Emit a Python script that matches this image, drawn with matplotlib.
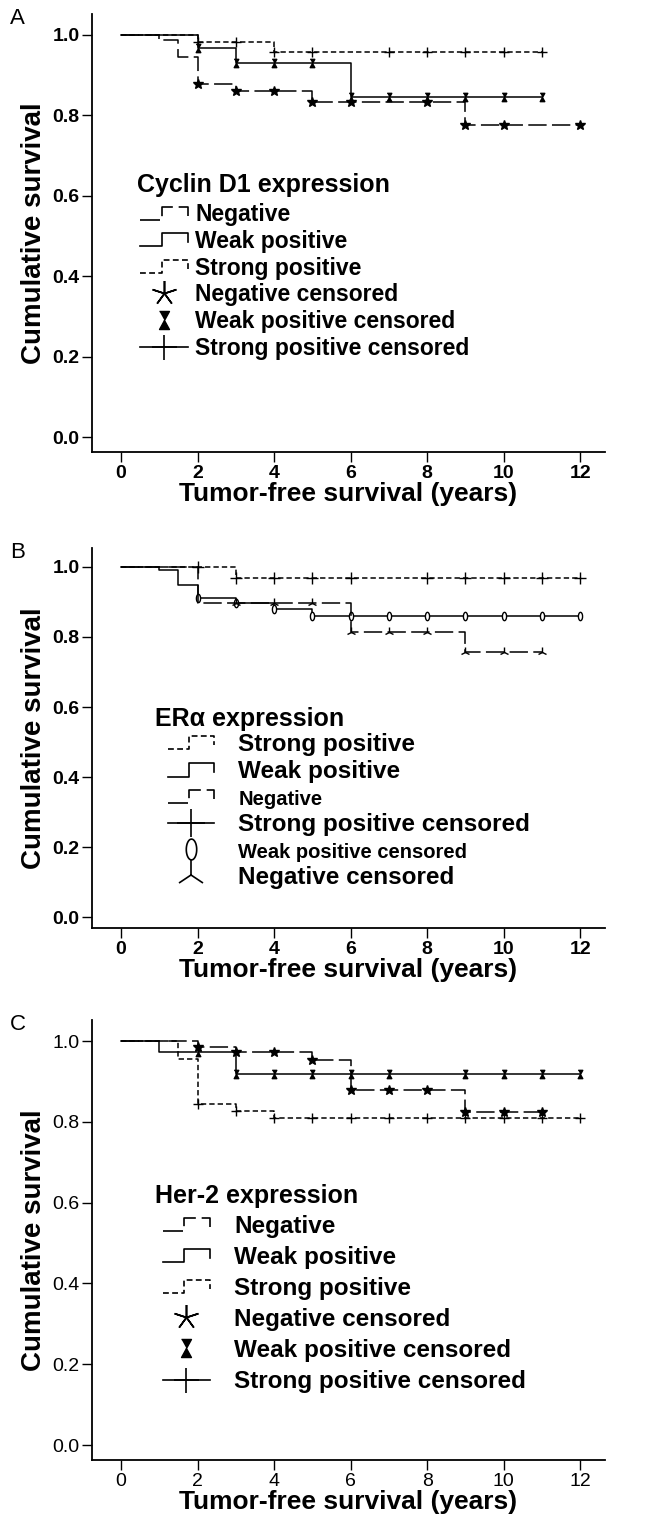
import numpy as np
import matplotlib
matplotlib.use('Agg')
import matplotlib.pyplot as plt
from matplotlib.lines import Line2D
from matplotlib.legend_handler import HandlerBase

plt.rcParams['font.family'] = ['Liberation Sans', 'DejaVu Sans']

#===================== data =====================
# Panel A: Cyclin D1
a_neg_t = [0, 1.0, 1.5, 2, 3, 5, 9, 12]
a_neg_s = [1.0, 0.987, 0.944, 0.877, 0.860, 0.832, 0.776, 0.776]
a_neg_c = [2, 3, 4, 5, 6, 8, 9, 10, 12]
a_weak_t = [0, 2, 3, 6, 11]
a_weak_s = [1.0, 0.967, 0.929, 0.845, 0.845]
a_weak_c = [2, 3, 4, 5, 6, 7, 8, 9, 10, 11]
a_str_t = [0, 2, 4, 11]
a_str_s = [1.0, 0.982, 0.958, 0.958]
a_str_c = [2, 3, 4, 5, 7, 8, 9, 10, 11]

# Panel B: ER alpha
b_str_t = [0, 3, 12]
b_str_s = [1.0, 0.968, 0.968]
b_str_c = [2, 3, 4, 5, 6, 8, 9, 10, 11, 12]
b_weak_t = [0, 1.0, 1.5, 2, 3, 4, 5, 12]
b_weak_s = [1.0, 0.99, 0.948, 0.912, 0.896, 0.881, 0.859, 0.859]
b_weak_c = [2, 3, 4, 5, 6, 7, 8, 9, 10, 11, 12]
b_neg_t = [0, 2, 6, 9, 11]
b_neg_s = [1.0, 0.897, 0.815, 0.757, 0.757]
b_neg_c = [3, 4, 5, 6, 7, 8, 9, 10, 11]

# Panel C: Her-2
c_neg_t = [0, 2, 3, 5, 6, 9, 11]
c_neg_s = [1.0, 0.985, 0.972, 0.953, 0.879, 0.824, 0.824]
c_neg_c = [2, 3, 4, 5, 6, 7, 8, 9, 10, 11]
c_weak_t = [0, 1, 3, 12]
c_weak_s = [1.0, 0.974, 0.918, 0.918]
c_weak_c = [2, 3, 4, 5, 6, 7, 9, 10, 11, 12]
c_str_t = [0, 1.5, 2, 3, 4, 12]
c_str_s = [1.0, 0.955, 0.845, 0.828, 0.809, 0.809]
c_str_c = [2, 3, 4, 5, 6, 7, 8, 9, 10, 11, 12]

x_ticks = [0, 2, 4, 6, 8, 10, 12]
y_ticks = [0.0, 0.2, 0.4, 0.6, 0.8, 1.0]

labA = ['Negative', 'Weak positive', 'Strong positive', 'Negative censored',
        'Weak positive censored', 'Strong positive censored']
labB = ['Strong positive', 'Weak positive', 'Negative', 'Strong positive censored',
        'Weak positive censored', 'Negative censored']

#===================== styles =====================
LONG = (0, (12, 3.5))
SHORT = (0, (3.5, 2))
SOLID = '-'

hourglass = [(-0.55, 1), (0.55, 1), (0, 0), (0.55, -1), (-0.55, -1), (0, 0)]
_th = np.linspace(0, 2 * np.pi, 40)
ellipse = list(zip(0.5 * np.cos(_th), np.sin(_th)))
asterisk = (5, 2, 0)
NARROW = ['Liberation Sans Narrow', 'Liberation Sans', 'DejaVu Sans']


class StepHandler(HandlerBase):
    # SPSS-style  _|‾|  legend symbol
    def create_artists(self, legend, orig_handle, xdescent, ydescent,
                       width, height, fontsize, trans):
        x0, y0 = -xdescent, -ydescent
        xs = [x0, x0 + 0.45 * width, x0 + 0.45 * width, x0 + width, x0 + width]
        ys = [y0 + 0.1 * height, y0 + 0.1 * height, y0 + 0.9 * height,
              y0 + 0.9 * height, y0 + 0.35 * height]
        ln = Line2D(xs, ys)
        ln.update_from(orig_handle)
        ln.set_marker('None')
        ln.set_transform(trans)
        return [ln]


def step_at(t, s, x):
    idx = np.searchsorted(t, x, side='right') - 1
    return np.asarray(s)[idx]


def draw_curve(ax, t, s, c, ls, marker, ms, mfc='k'):
    ax.step(t, s, where='post', color='k', lw=1.1, linestyle=ls)
    ax.plot(c, step_at(t, s, c), linestyle='none', marker=marker, ms=ms,
            color='k', mfc=mfc, mew=1.0)


def style_axes(ax, bold_ticks):
    ax.set_xlim(-0.76, 12.65)
    ax.set_xticks(x_ticks)
    ax.set_yticks(y_ticks)
    ax.set_yticklabels(['%.1f' % v for v in y_ticks])
    for sp in ['top', 'right']:
        ax.spines[sp].set_visible(False)
    for sp in ['left', 'bottom']:
        ax.spines[sp].set_linewidth(1.3)
    ax.tick_params(direction='out', length=7, width=1.0, labelsize=14, pad=2)
    for lb in ax.get_xticklabels() + ax.get_yticklabels():
        if bold_ticks:
            lb.set_fontweight('bold')
            lb.set_family(NARROW)
    ax.set_xlabel('Tumor-free survival (years)', fontsize=19, fontweight='bold', labelpad=0)
    ax.set_ylabel('Cumulative survival', fontsize=20, fontweight='bold', labelpad=4)


def make_handles(kind):
    if kind == 'A':
        return [Line2D([], [], color='k', lw=1.2, linestyle=LONG),
                Line2D([], [], color='k', lw=1.2, linestyle=SOLID),
                Line2D([], [], color='k', lw=1.2, linestyle=SHORT),
                Line2D([], [], color='k', linestyle='none', marker=asterisk, ms=18, mew=1.2),
                Line2D([], [], color='k', linestyle='none', marker=hourglass, ms=13),
                Line2D([], [], color='k', lw=1.2, linestyle='-', marker='+', ms=18, mew=1.2)]
    return [Line2D([], [], color='k', lw=1.2, linestyle=SHORT),
            Line2D([], [], color='k', lw=1.2, linestyle=SOLID),
            Line2D([], [], color='k', lw=1.2, linestyle=LONG),
            Line2D([], [], color='k', lw=1.2, linestyle='-', marker='+', ms=20, mew=1.2),
            Line2D([], [], color='k', linestyle='none', marker=ellipse, ms=15, mfc='white', mew=1.2),
            Line2D([], [], color='k', linestyle='none', marker='2', ms=22, mew=1.2)]


def add_legend(ax, handles, labels, title, title_xy, title_size, anchor,
               size, hlen, tpad, lspace, sizes=None):
    ax.text(title_xy[0], title_xy[1], title, transform=ax.transAxes,
            fontsize=title_size, fontweight='bold', va='center', ha='left')
    leg = ax.legend(handles, labels, loc='upper left', bbox_to_anchor=anchor,
                    frameon=False, handlelength=hlen, handletextpad=tpad,
                    labelspacing=lspace, borderpad=0, borderaxespad=0,
                    handler_map={h: StepHandler() for h in handles[:3]},
                    prop={'weight': 'bold', 'size': size})
    if sizes:
        for txt, sz in zip(leg.get_texts(), sizes):
            txt.set_fontsize(sz)
    return leg


fig = plt.figure(figsize=(6.5, 15.39), dpi=100)
L, W = 92 / 650, 513 / 650
axA = fig.add_axes([L, 1 - 452 / 1539, W, 438 / 1539])
axB = fig.add_axes([L, 1 - 928 / 1539, W, 380 / 1539])
axC = fig.add_axes([L, 1 - 1460 / 1539, W, 440 / 1539])

#===================== A =====================
draw_curve(axA, a_neg_t, a_neg_s, a_neg_c, LONG, '*', 7)
draw_curve(axA, a_weak_t, a_weak_s, a_weak_c, SOLID, hourglass, 6)
draw_curve(axA, a_str_t, a_str_s, a_str_c, SHORT, '+', 7)
axA.set_ylim(-0.037, 1.052)
style_axes(axA, True)
add_legend(axA, make_handles('A'), labA, 'Cyclin D1 expression', (0.088, 0.61), 18,
           (0.094, 0.568), 16.5, 2.1, 0.3, 0.16)

#===================== B =====================
draw_curve(axB, b_str_t, b_str_s, b_str_c, SHORT, '+', 8)
draw_curve(axB, b_weak_t, b_weak_s, b_weak_c, SOLID, ellipse, 6, mfc='white')
draw_curve(axB, b_neg_t, b_neg_s, b_neg_c, LONG, '2', 7)
axB.set_ylim(-0.031, 1.054)
style_axes(axB, True)
add_legend(axB, make_handles('B'), labB, 'ER\u03b1 expression', (0.123, 0.55), 18,
           (0.148, 0.513), 17.5, 1.9, 1.0, 0.18, sizes=[17.5, 17.5, 14.5, 17.5, 14.5, 17.5])

#===================== C =====================
draw_curve(axC, c_neg_t, c_neg_s, c_neg_c, LONG, '*', 7)
draw_curve(axC, c_weak_t, c_weak_s, c_weak_c, SOLID, hourglass, 6)
draw_curve(axC, c_str_t, c_str_s, c_str_c, SHORT, '+', 7)
axC.set_ylim(-0.037, 1.052)
style_axes(axC, False)
add_legend(axC, make_handles('A'), labA, 'Her-2 expression', (0.123, 0.60), 18,
           (0.138, 0.557), 17.5, 1.95, 1.0, 0.33)

fig.text(10 / 650, 1 - 18 / 1539, 'A', fontsize=16, va='center')
fig.text(10 / 650, 1 - 553 / 1539, 'B', fontsize=16, va='center')
fig.text(10 / 650, 1 - 1025 / 1539, 'C', fontsize=16, va='center')

fig.savefig('out.png', dpi=100)
